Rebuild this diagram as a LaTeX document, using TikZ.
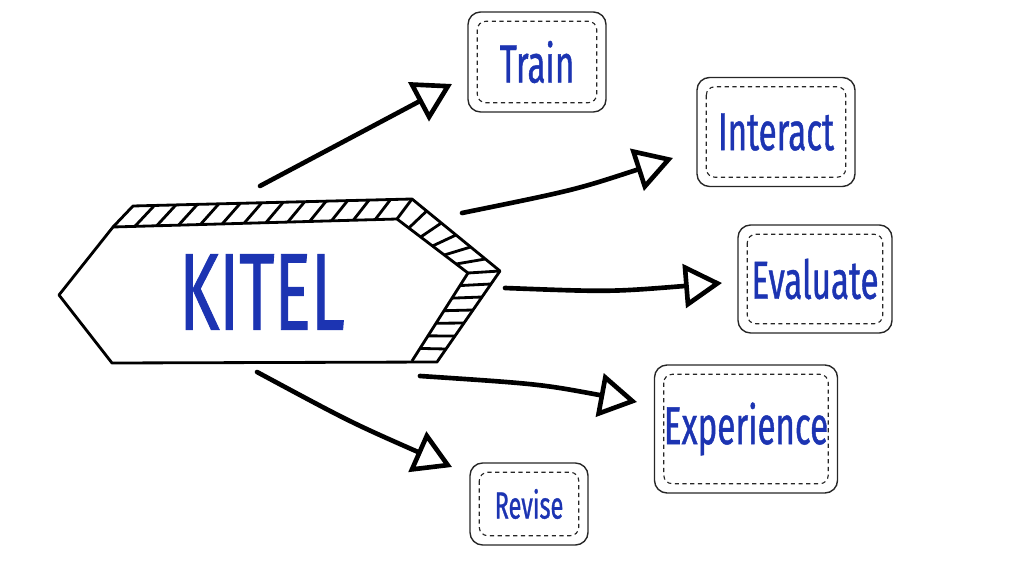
\documentclass[tikz,border=0pt]{standalone}
\usepackage{fontspec}
\usepackage{xcolor}
\usepackage{tikz}
\usetikzlibrary{arrows.meta, positioning, calc}
\newfontfamily\handfont[FakeStretch=0.62, UprightFeatures={FakeBold=0.8}]{Fira Sans}
\definecolor{inkblue}{RGB}{28,52,178}

\begin{document}
\begin{tikzpicture}[x=0.025cm, y=-0.025cm, >={Triangle[open, length=27pt, width=31pt]}]
  \tikzstyle{stepbox} = [rectangle, draw=black!85, line width=1pt, rounded corners=9pt, font=\handfont\fontsize{38}{40}\selectfont, text=inkblue, inner sep=0pt]
  \tikzstyle{stitch} = [draw=black!85, line width=0.8pt, dash pattern=on 3pt off 2.5pt, rounded corners=6pt]
  \tikzstyle{flow} = [->, line width=3.3pt, line cap=round]
  \tikzstyle{edge} = [line width=2pt, line join=round]

  \useasboundingbox (0,0) rectangle (1024,576);

  % the KITEL plate
  \draw[edge, fill=white] (59,295) -- (113,227) -- (133,206) -- (412,199) -- (500,271) -- (437,362) -- (112,363) -- cycle;
  \draw[edge] (113,227) -- (397,219) -- (468,273) -- (412,361);
  \draw[edge] (397,219) -- (412,199) (468,273) -- (500,271);
  \foreach \t in {1,...,12}
    \draw[edge] ($(113,227)!\t/13!(397,219)$) -- ($(133,206)!\t/13!(412,199)$);
  \foreach \t in {1,...,5}
    \draw[edge] ($(397,219)!\t/6!(468,273)$) -- ($(412,199)!\t/6!(500,271)$);
  \foreach \t in {1,...,6}
    \draw[edge] ($(468,273)!\t/7!(412,361)$) -- ($(500,271)!\t/7!(437,362)$);
  \node[font=\handfont\fontsize{78}{78}\selectfont, text=inkblue] (kitel) at (262,292) {KITEL};

  % steps
  \node[stepbox, minimum width=3.45cm, minimum height=2.5cm] (train) at (537,62) {Train};
  \node[stepbox, minimum width=3.95cm, minimum height=2.725cm] (interact) at (776,132) {Interact};
  \node[stepbox, minimum width=3.85cm, minimum height=2.7cm] (evaluate) at (815,279) {Evaluate};
  \node[stepbox, minimum width=4.575cm, minimum height=3.2cm] (experience) at (746,429) {Experience};
  \node[stepbox, minimum width=2.95cm, minimum height=2.05cm, font=\handfont\fontsize{27}{30}\selectfont] (revise) at (529,504) {Revise};
  \foreach \n in {train, interact, evaluate, experience, revise}
    \draw[stitch] ([shift={(10,10)}]\n.north west) rectangle ([shift={(-10,-10)}]\n.south east);

  % arrows
  \coordinate (k1) at (260,186);
  \coordinate (k2) at (462,213);
  \coordinate (k3) at (505,288);
  \coordinate (k4) at (420,376);
  \coordinate (k5) at (257,372);
  \coordinate (t1) at (452,84);
  \coordinate (i1) at (673,158);
  \coordinate (e1) at (722,283);
  \coordinate (x1) at (637,402);
  \coordinate (r1) at (452,467);

  \draw[flow] (k1) -- (t1);
  \draw[flow] (k2) .. controls (575,190) .. (i1);
  \draw[flow] (k3) .. controls (610,292) .. (e1);
  \draw[flow] (k4) .. controls (540,384) .. (x1);
  \draw[flow] (k5) .. controls (350,422) .. (r1);
\end{tikzpicture}
\end{document}
